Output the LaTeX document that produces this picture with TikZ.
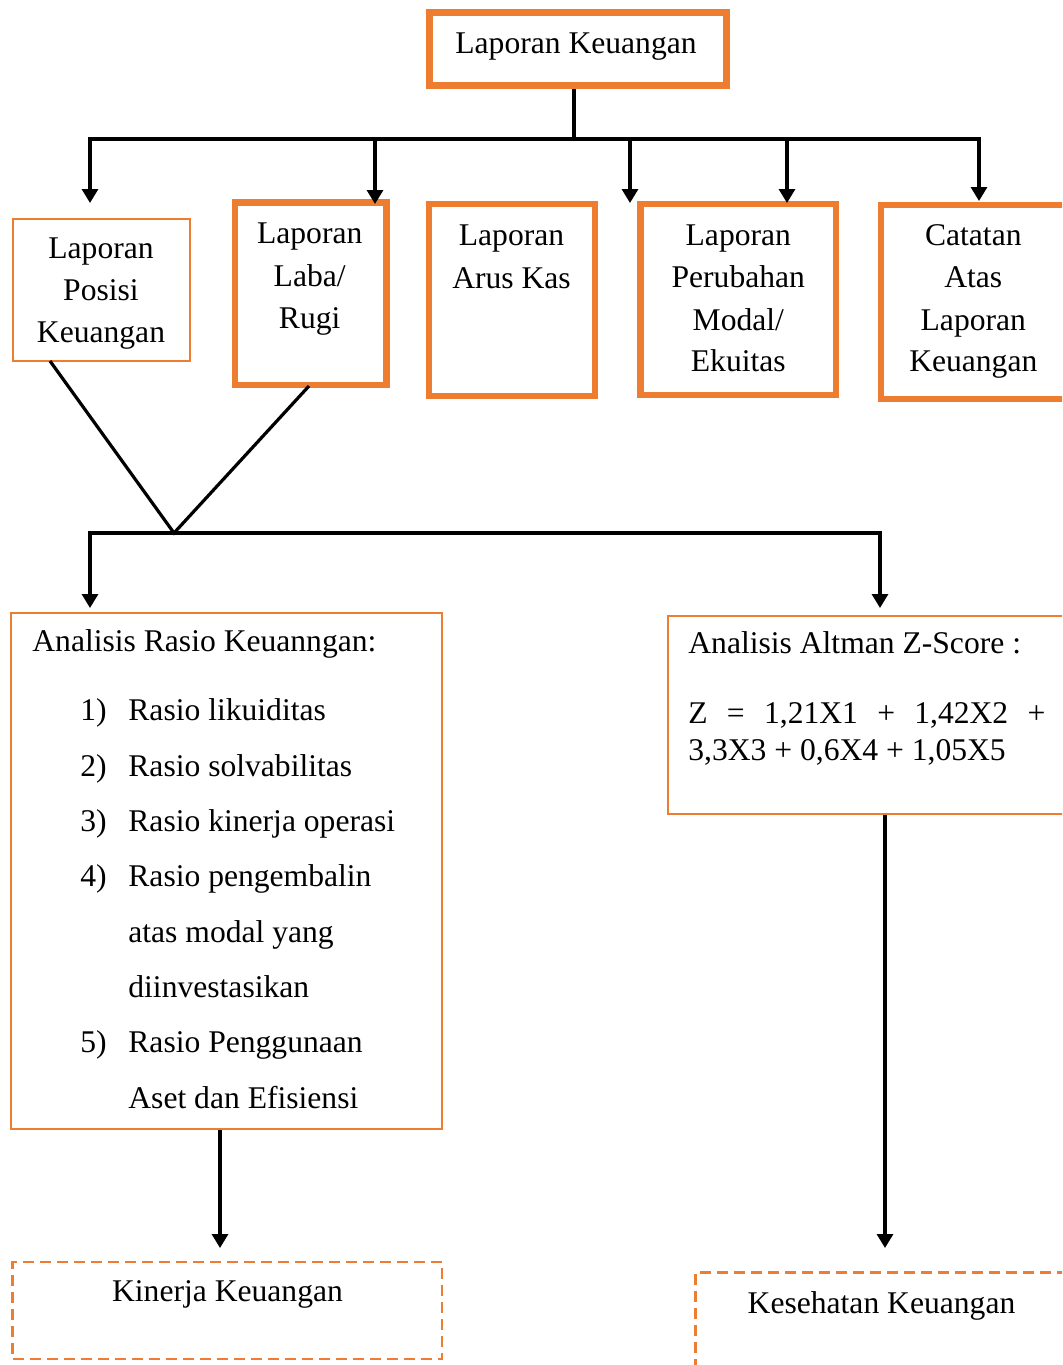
\documentclass[tikz,border=0pt]{standalone}
\usepackage{fontspec}
\setmainfont{Liberation Serif}
\usetikzlibrary{arrows.meta}
\definecolor{org}{HTML}{ED7D31}
\newcommand\myfs{\fontsize{15.8}{19}\selectfont}
\begin{document}
\begin{tikzpicture}[x=0.5pt,y=-0.5pt,
  tbox/.style={draw=org, line width=3.25pt, rectangle, inner sep=0},
  nbox/.style={draw=org, line width=1pt, rectangle, inner sep=0},
  dbox/.style={draw=org, line width=1.3pt, dash pattern=on 5.5pt off 3pt, rectangle, inner sep=0},
  conn/.style={line width=1.6pt, line join=miter},
  arr/.style={conn, -{Triangle[length=7pt,width=8pt]}},
  txt/.style={inner sep=0, font=\myfs, anchor=base},
  ltxt/.style={inner sep=0, font=\myfs, anchor=base west}]
\useasboundingbox (0,0) rectangle (1062,1365);
\clip (0,0) rectangle (1062,1365);
\fill[white] (0,0) rectangle (1062,1365);

% boxes
\node[tbox, line width=3.5pt, minimum width=148.75pt, minimum height=36.5pt] (lk) at (577.75,48.5) {};
\node[nbox, minimum width=88.25pt, minimum height=71pt] (lpk) at (101.25,290) {};
\node[tbox, minimum width=75.75pt, minimum height=91.25pt] (llr) at (310.75,293.75) {};
\node[tbox, minimum width=83pt, minimum height=96pt] (lak) at (512,300) {};
\node[tbox, minimum width=97.75pt, minimum height=95.5pt] (lpm) at (738.25,299.5) {};
\node[tbox, minimum width=100pt, minimum height=97pt] (calk) at (981,302) {};
\node[nbox, minimum width=215.35pt, minimum height=258pt] (rasio) at (226.35,870.5) {};
\node[nbox, minimum width=206pt, minimum height=99pt] (altman) at (874,715) {};
\node[dbox, minimum width=214.75pt, minimum height=48.5pt] (kinerja) at (227.25,1310.5) {};
\node[dbox, minimum width=197.25pt, minimum height=63.75pt] (sehat) at (892.75,1336.25) {};

% connectors, top tree
\coordinate (j0) at (574,139);
\coordinate (a1) at (90,203);
\coordinate (a2) at (375,204);
\coordinate (a3) at (630,203);
\coordinate (a4) at (787,203);
\coordinate (a5) at (979,201);
\draw[conn] (lk.south -| j0) -- (j0);
\draw[arr] (j0) -| (a1);
\draw[arr] (j0) -| (a5);
\draw[arr] (a2 |- j0) -- (a2);
\draw[arr] (a3 |- j0) -- (a3);
\draw[arr] (a4 |- j0) -- (a4);

% V junction and second tree
\coordinate (p1) at (50,361);
\coordinate (p2) at (309,386);
\coordinate (v) at (174,533);
\coordinate (a6) at (90,608);
\coordinate (a7) at (880,608);
\draw[conn] (p1) -- (v) -- (p2);
\draw[arr] (v) -| (a6);
\draw[arr] (v) -| (a7);

% bottom arrows
\coordinate (k0) at (220,1248);
\coordinate (k1) at (885,1248);
\draw[arr] (rasio.south -| k0) -- (k0);
\draw[arr] (altman.south -| k1) -- (k1);

% texts
\node[txt] (t0) at (576,53) {Laporan Keuangan};

\node[txt] (t1a) at (101,258) {Laporan};
\node[txt] (t1b) at (101,300.3) {Posisi};
\node[txt] (t1c) at (101,342.7) {Keuangan};

\node[txt] (t2a) at (309.7,243.3) {Laporan};
\node[txt] (t2b) at (309.7,286) {Laba/};
\node[txt] (t2c) at (309.7,328.3) {Rugi};

\node[txt] (t3a) at (511.5,245) {Laporan};
\node[txt] (t3b) at (511.5,288) {Arus Kas};

\node[txt] (t4a) at (738.3,245) {Laporan};
\node[txt] (t4b) at (738.3,287.3) {Perubahan};
\node[txt] (t4c) at (738.3,330) {Modal/};
\node[txt] (t4d) at (738.3,371.7) {Ekuitas};

\node[txt] (t5a) at (973.3,245) {Catatan};
\node[txt] (t5b) at (973.3,287.3) {Atas};
\node[txt] (t5c) at (973.3,330) {Laporan};
\node[txt] (t5d) at (973.3,371.7) {Keuangan};

\node[ltxt] (r0) at (32,651.7) {Analisis Rasio Keuanngan:};
\node[ltxt] (n1) at (80,720.7) {1)};
\node[ltxt] (r1) at (128,720.7) {Rasio likuiditas};
\node[ltxt] (n2) at (80,776.1) {2)};
\node[ltxt] (r2) at (128,776.1) {Rasio solvabilitas};
\node[ltxt] (n3) at (80,831.5) {3)};
\node[ltxt] (r3) at (128,831.5) {Rasio kinerja operasi};
\node[ltxt] (n4) at (80,886.8) {4)};
\node[ltxt] (r4) at (128,886.8) {Rasio pengembalin};
\node[ltxt] (r4b) at (128,942.2) {atas modal yang};
\node[ltxt] (r4c) at (128,997.5) {diinvestasikan};
\node[ltxt] (n5) at (80,1052.9) {5)};
\node[ltxt] (r5) at (128,1052.9) {Rasio Penggunaan};
\node[ltxt] (r5b) at (128,1108.3) {Aset dan Efisiensi};

\node[ltxt] (z0) at (688,653.3) {Analisis Altman Z-Score :};
\node[ltxt] (z1) at (688,723.3) {\makebox[178.5pt][s]{Z\hfill=\hfill1,21X1\hfill+\hfill1,42X2\hfill+}};
\node[ltxt] (z2) at (688,760) {3,3X3 + 0,6X4 + 1,05X5};

\node[txt] (tk) at (227.5,1301.7) {Kinerja Keuangan};
\node[txt] (ts) at (881.5,1313.3) {Kesehatan Keuangan};
\end{tikzpicture}
\end{document}
